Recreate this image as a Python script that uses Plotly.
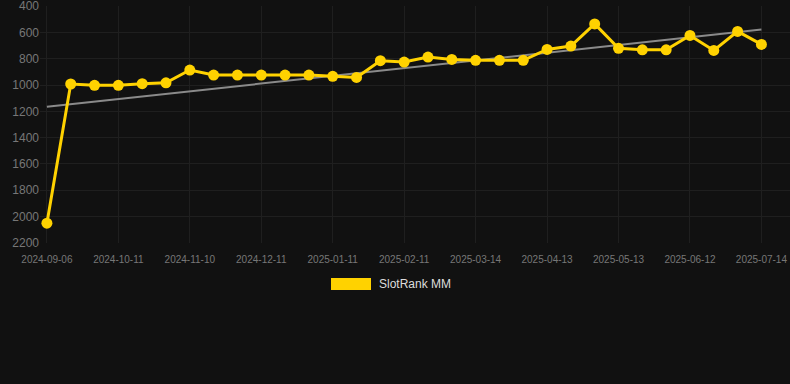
import plotly.graph_objects as go

dates = ["2024-09-06", "2024-09-18", "2024-09-30", "2024-10-11", "2024-10-21", "2024-10-31",
         "2024-11-10", "2024-11-20", "2024-11-30", "2024-12-11", "2024-12-21", "2024-12-31",
         "2025-01-11", "2025-01-21", "2025-01-31", "2025-02-11", "2025-02-21", "2025-03-03",
         "2025-03-14", "2025-03-24", "2025-04-03", "2025-04-13", "2025-04-23", "2025-05-03",
         "2025-05-13", "2025-05-23", "2025-06-02", "2025-06-12", "2025-06-22", "2025-07-02",
         "2025-07-14"]
rank = [2050, 992, 1002, 1002, 990, 983, 886, 924, 924, 924, 924, 924, 934, 942, 815, 825,
        787, 805, 812, 812, 812, 729, 704, 535, 721, 732, 732, 623, 737, 592, 691]
trend_values = [1165, 578]
tick_labels = dates[::3]
y_ticks = [400, 600, 800, 1000, 1200, 1400, 1600, 1800, 2000, 2200]
series_name = "SlotRank MM"

gold = "#FFD200"
fig = go.Figure()
fig.add_trace(go.Scatter(x=[dates[0], dates[-1]], y=trend_values, mode="lines",
                         line=dict(color="#8a8a8a", width=2), hoverinfo="skip", showlegend=False))
fig.add_trace(go.Scatter(x=dates, y=rank, mode="lines+markers", name=series_name,
                         line=dict(color=gold, width=3), marker=dict(color=gold, size=11),
                         showlegend=False))

fig.update_layout(
    width=790, height=384,
    margin=dict(l=40, r=0, t=6, b=141),
    paper_bgcolor="#111111", plot_bgcolor="#111111",
    font=dict(family="Liberation Sans, Arial, sans-serif"),
    xaxis=dict(type="category", categoryorder="array", categoryarray=dates,
               tickvals=tick_labels, ticktext=tick_labels, range=[-0.29, 31.2],
               showgrid=True, gridcolor="#1f1f1f", gridwidth=1, zeroline=False,
               tickfont=dict(size=10, color="#777777"), ticks="outside", ticklen=7,
               tickcolor="rgba(0,0,0,0)", showline=False),
    yaxis=dict(range=[2201, 399], tickvals=y_ticks, showgrid=True, gridcolor="#1f1f1f",
               zeroline=False, tickfont=dict(size=12, color="#777777"), ticks="",
               showline=False, ticklabeloverflow="allow"),
    shapes=[dict(type="rect", xref="paper", yref="paper", x0=(331 - 40) / 750, x1=(371 - 40) / 750,
                 y0=-(278 - 243) / 237, y1=-(290 - 243) / 237, fillcolor=gold, line=dict(width=0))],
    annotations=[dict(text=series_name, xref="paper", yref="paper", x=(377 - 40) / 750,
                      y=-(284 - 243) / 237, xanchor="left", yanchor="middle", showarrow=False,
                      font=dict(size=12, color="#dddddd"))],
)

fig.write_html("out.html", config={"displayModeBar": False},
               post_script="document.body.style.margin='0';document.body.style.background='#111111';")
